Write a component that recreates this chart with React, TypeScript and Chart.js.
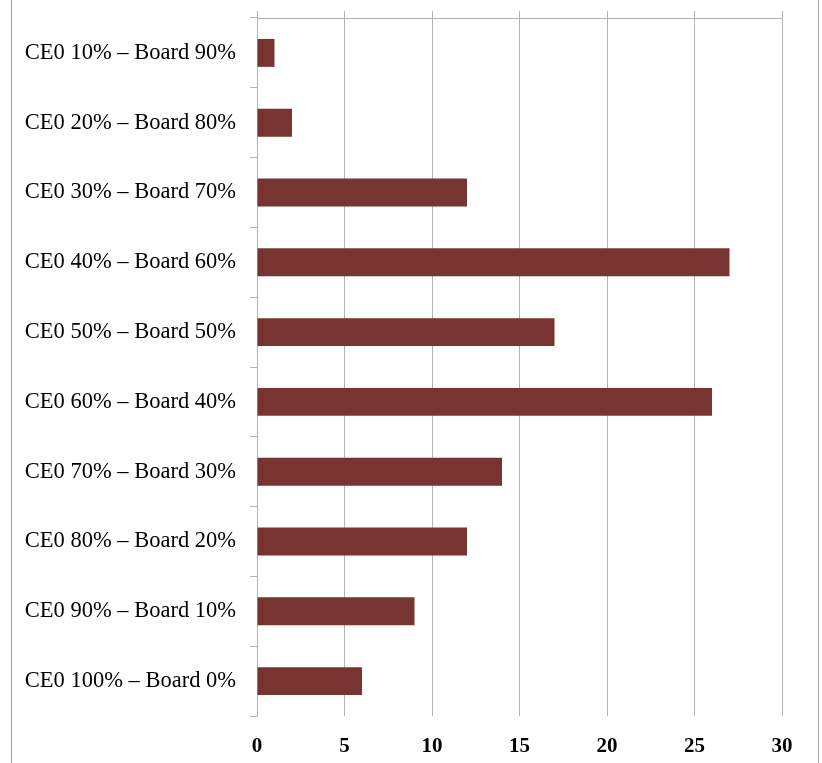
import React, { useEffect, useRef } from "react";
import { Chart, registerables } from "chart.js";

Chart.register(...registerables);

// Ownership split categories (top to bottom) and their counts
const categories: string[] = [
  "CE0 10% – Board 90%",
  "CE0 20% – Board 80%",
  "CE0 30% – Board 70%",
  "CE0 40% – Board 60%",
  "CE0 50% – Board 50%",
  "CE0 60% – Board 40%",
  "CE0 70% – Board 30%",
  "CE0 80% – Board 20%",
  "CE0 90% – Board 10%",
  "CE0 100% – Board 0%",
];
const counts: number[] = [1, 2, 12, 27, 17, 26, 14, 12, 9, 6];

const AXIS_MIN = 0;
const AXIS_MAX = 30;
const AXIS_STEP = 5;

const GRID = "#b3b3b3";
const BAR = "#773430";
const SERIF = "'Liberation Serif', 'Times New Roman', serif";

export default function App() {
  const ref = useRef<HTMLCanvasElement | null>(null);

  useEffect(() => {
    if (!ref.current) return;
    const chart = new Chart(ref.current, {
      type: "bar",
      data: {
        labels: categories,
        datasets: [
          {
            data: counts,
            backgroundColor: BAR,
            borderWidth: 0,
            categoryPercentage: 1,
            barPercentage: 0.4,
          },
        ],
      },
      options: {
        indexAxis: "y",
        animation: false,
        responsive: false,
        events: [],
        layout: { padding: { left: 0, right: 40, top: 11, bottom: 0 } },
        plugins: { legend: { display: false }, tooltip: { enabled: false } },
        scales: {
          x: {
            position: "bottom",
            min: AXIS_MIN,
            max: AXIS_MAX,
            ticks: {
              stepSize: AXIS_STEP,
              color: "#000",
              padding: 18,
              font: { family: SERIF, size: 21, weight: "bold" },
            },
            grid: { color: GRID, lineWidth: 1, drawTicks: false },
            border: { display: false },
            afterFit: (s: any) => {
              s.height = 47;
            },
          },
          x2: {
            position: "top",
            min: AXIS_MIN,
            max: AXIS_MAX,
            ticks: { display: false, stepSize: AXIS_STEP },
            grid: {
              color: GRID,
              lineWidth: 1,
              drawOnChartArea: false,
              drawTicks: true,
              tickLength: 7,
            },
            border: { display: true, color: GRID, width: 1 },
            afterFit: (s: any) => {
              s.height = 7;
            },
          },
          y: {
            position: "left",
            ticks: {
              color: "#000",
              padding: 14,
              font: { family: SERIF, size: 22.5 },
            },
            grid: {
              color: GRID,
              lineWidth: 1,
              offset: true,
              drawOnChartArea: false,
              drawTicks: true,
              tickLength: 7,
            },
            border: { display: true, color: GRID, width: 1 },
            afterFit: (s: any) => {
              s.width = 257;
              s.paddingTop = 0;
              s.paddingBottom = 0;
            },
          },
        },
      },
    });
    return () => chart.destroy();
  }, []);

  return (
    <div style={{ position: "absolute", left: 0, top: 0, width: 822, height: 763, overflow: "hidden", background: "#fff" }}>
      <div style={{ position: "absolute", left: 11, top: 0, width: 1, height: 763, background: "#a6a6a6" }} />
      <div style={{ position: "absolute", left: 818, top: 0, width: 1, height: 763, background: "#a6a6a6" }} />
      <canvas ref={ref} width={822} height={763} style={{ position: "absolute", left: 0, top: 0 }} />
    </div>
  );
}
